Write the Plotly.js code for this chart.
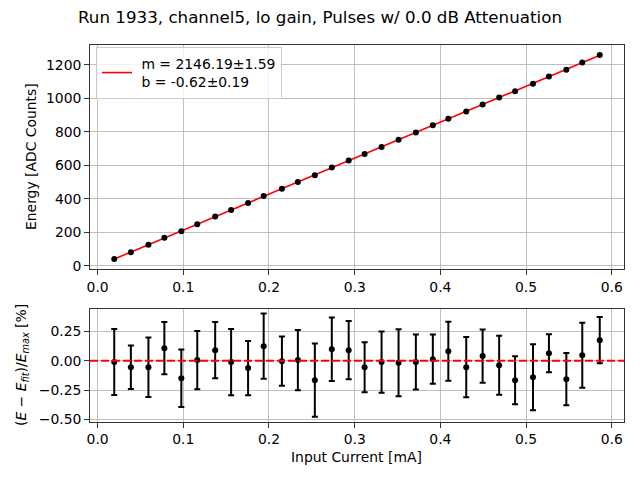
<!DOCTYPE html>
<html><head><meta charset="utf-8">
<script src="https://cdn.plot.ly/plotly-3.0.1.min.js"></script>
<style>html,body{margin:0;padding:0;background:#fff}#chart{width:640px;height:480px}</style>
</head><body><div id="chart"></div>
<script>
const current = [0.0194,0.0388,0.0593,0.0779,0.0977,0.1163,0.1372,0.1558,0.1756,0.1938,
  0.2151,0.2337,0.2535,0.2733,0.2930,0.3116,0.3314,0.3512,0.3714,0.3912,
  0.4093,0.4302,0.4493,0.4686,0.4872,0.5081,0.5267,0.5470,0.5656,0.5860];
const energy = [40.89,81.97,125.97,167.93,207.20,249.06,294.98,333.62,375.47,416.88,
  460.99,501.03,541.37,587.17,629.35,667.45,710.49,752.91,796.33,839.15,
  878.85,921.99,964.16,1004.62,1042.93,1088.11,1130.60,1171.39,1213.87,1259.26];
const residual = [-0.010,-0.054,-0.054,0.108,-0.148,0.006,0.091,-0.011,-0.062,0.125,
  -0.003,0.006,-0.165,0.099,0.091,-0.054,-0.011,-0.017,-0.011,0.014,
  0.082,-0.054,0.040,-0.037,-0.165,-0.139,0.065,-0.156,0.048,0.176];
const residualErr = [0.281,0.185,0.253,0.222,0.244,0.247,0.239,0.281,0.231,0.277,
  0.209,0.256,0.312,0.270,0.247,0.213,0.260,0.285,0.234,0.209,
  0.251,0.256,0.226,0.251,0.204,0.281,0.162,0.222,0.277,0.196];
const fitM = 2146.19, fitB = -0.62;
const fitLabel = ' m = 2146.19±1.59<br> b = -0.62±0.19';
const xTicks = [0,0.1,0.2,0.3,0.4,0.5,0.6];
const yTicksTop = [0,200,400,600,800,1000,1200];
const yTicksBottom = [-0.5,-0.25,0,0.25];
const titleText = 'Run 1933, channel5, lo gain, Pulses w/ 0.0 dB Attenuation';

const fitX = [current[0], current[current.length-1]];
const fitY = fitX.map(x => fitM*x + fitB);

const FONT = 'DejaVu Sans, sans-serif';
const axisCommon = {
  showgrid: true, gridcolor: '#b0b0b0', gridwidth: 0.8,
  showline: true, mirror: true, linecolor: '#000', linewidth: 0.8,
  ticks: 'outside', ticklen: 5, tickwidth: 0.8, tickcolor: '#000',
  zeroline: false, tickfont: {family: FONT, size: 13.9, color: '#000'}
};

const traces = [
  {x: fitX, y: fitY, mode: 'lines', line: {color: 'red', width: 1.6},
   name: fitLabel, xaxis: 'x', yaxis: 'y', showlegend: true},
  {x: current, y: energy, mode: 'markers', marker: {color: '#000', size: 6},
   xaxis: 'x', yaxis: 'y', showlegend: false},
  {x: current, y: residual, mode: 'markers', marker: {color: '#000', size: 6},
   error_y: {type: 'data', array: residualErr, visible: true, color: '#000', thickness: 2, width: 3},
   xaxis: 'x2', yaxis: 'y2', showlegend: false}
];

const layout = {
  width: 640, height: 480,
  margin: {l: 0, r: 0, t: 0, b: 0},
  paper_bgcolor: '#fff', plot_bgcolor: '#fff',
  font: {family: FONT, color: '#000'},
  title: {text: titleText, font: {family: FONT, size: 16.7, color: '#000'},
          x: 0.5, xanchor: 'center', y: 1 - 17/480, yanchor: 'middle', xref: 'paper', yref: 'paper'},
  xaxis: Object.assign({}, axisCommon, {domain: [0.1406, 0.975], range: [-0.0089, 0.6143],
          anchor: 'y', tickvals: xTicks, tickformat: '.1f'}),
  yaxis: Object.assign({}, axisCommon, {domain: [0.439, 0.906], range: [-20, 1318],
          anchor: 'x', tickvals: yTicksTop}),
  xaxis2: Object.assign({}, axisCommon, {domain: [0.1406, 0.975], range: [-0.0089, 0.6143],
          anchor: 'y2', tickvals: xTicks, tickformat: '.1f'}),
  yaxis2: Object.assign({}, axisCommon, {domain: [0.121, 0.356], range: [-0.52, 0.44],
          anchor: 'x2', tickvals: yTicksBottom, tickformat: '.2f'}),
  legend: {x: 0.150, y: 1 - 47/480, xanchor: 'left', yanchor: 'top',
           bgcolor: 'rgba(255,255,255,0.8)', bordercolor: '#cccccc', borderwidth: 1,
           font: {family: FONT, size: 13.9, color: '#000'}},
  shapes: [
    {type: 'line', xref: 'x2 domain', yref: 'y2', x0: 0, x1: 1, y0: 0, y1: 0,
     line: {color: 'red', width: 2, dash: '8px,3px'}}
  ],
  annotations: [
    {text: 'Input Current [mA]', xref: 'paper', yref: 'paper', x: (0.1406+0.975)/2, y: 1 - 457/480,
     xanchor: 'center', yanchor: 'middle', showarrow: false, font: {family: FONT, size: 13.9, color: '#000'}},
    {text: 'Energy [ADC Counts]', xref: 'paper', yref: 'paper', x: 31/640, y: 1 - 157/480,
     xanchor: 'center', yanchor: 'middle', textangle: -90, showarrow: false, font: {family: FONT, size: 13.9, color: '#000'}},
    {text: '(<i>E</i> − <i>E</i><sub><i>fit</i></sub>)/<i>E</i><sub><i>max</i></sub> [%]', xref: 'paper', yref: 'paper',
     x: 22/640, y: 1 - 365/480, xanchor: 'center', yanchor: 'middle', textangle: -90, showarrow: false,
     font: {family: FONT, size: 13.9, color: '#000'}}
  ]
};

Plotly.newPlot('chart', traces, layout, {displayModeBar: false, staticPlot: true});
</script></body></html>
